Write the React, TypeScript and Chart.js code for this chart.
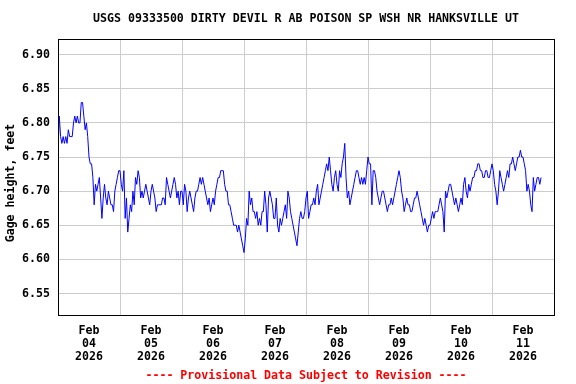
import React, { useEffect, useRef } from 'react';
import { Chart, registerables } from 'chart.js';

Chart.register(...registerables);

const TITLE = 'USGS 09333500 DIRTY DEVIL R AB POISON SP WSH NR HANKSVILLE UT';
const Y_TITLE = 'Gage height, feet';
const FOOTER = '---- Provisional Data Subject to Revision ----';
const MONTH = 'Feb';
const YEAR = '2026';
const DAYS = ['04', '05', '06', '07', '08', '09', '10', '11'];
const Y_TICKS = [6.55, 6.6, 6.65, 6.7, 6.75, 6.8, 6.85, 6.9];
const Y_MIN = 6.517;
const Y_MAX = 6.923;
const HOURS_SPAN = 192;
const STEP_HOURS = 0.5;

// half-hourly gage height, starting Feb 04 2026 00:00
const GAGE_HEIGHT = [
  6.76, 6.81, 6.78, 6.77, 6.78, 6.77, 6.78, 6.77, 6.79, 6.78, 6.78, 6.78,
  6.80, 6.81, 6.80, 6.81, 6.80, 6.80, 6.83, 6.83, 6.81, 6.79, 6.80, 6.78,
  6.75, 6.74, 6.74, 6.72, 6.68, 6.71, 6.70, 6.71, 6.72, 6.69, 6.66, 6.69,
  6.71, 6.69, 6.68, 6.70, 6.69, 6.68, 6.68, 6.67, 6.70, 6.71, 6.72, 6.73,
  6.73, 6.71, 6.70, 6.73, 6.66, 6.69, 6.64, 6.66, 6.68, 6.67, 6.70, 6.68,
  6.72, 6.71, 6.73, 6.72, 6.69, 6.70, 6.69, 6.70, 6.71, 6.70, 6.69, 6.68,
  6.70, 6.71, 6.70, 6.69, 6.67, 6.68, 6.68, 6.68, 6.68, 6.69, 6.69, 6.68,
  6.72, 6.71, 6.70, 6.69, 6.70, 6.71, 6.72, 6.71, 6.69, 6.70, 6.68, 6.70,
  6.70, 6.68, 6.71, 6.70, 6.67, 6.69, 6.70, 6.69, 6.68, 6.67, 6.69, 6.70,
  6.70, 6.71, 6.72, 6.71, 6.72, 6.71, 6.70, 6.69, 6.68, 6.69, 6.67, 6.68,
  6.69, 6.68, 6.70, 6.71, 6.72, 6.72, 6.73, 6.73, 6.73, 6.71, 6.70, 6.70,
  6.68, 6.68, 6.67, 6.66, 6.65, 6.65, 6.65, 6.64, 6.65, 6.64, 6.63, 6.62,
  6.61, 6.63, 6.66, 6.65, 6.70, 6.68, 6.69, 6.67, 6.67, 6.66, 6.67, 6.65,
  6.66, 6.65, 6.67, 6.67, 6.70, 6.68, 6.64, 6.69, 6.70, 6.69, 6.68, 6.66,
  6.66, 6.69, 6.65, 6.64, 6.66, 6.65, 6.66, 6.67, 6.68, 6.66, 6.70, 6.69,
  6.67, 6.66, 6.65, 6.64, 6.63, 6.62, 6.64, 6.66, 6.67, 6.66, 6.66, 6.67,
  6.69, 6.70, 6.66, 6.67, 6.68, 6.68, 6.69, 6.68, 6.70, 6.71, 6.68, 6.69,
  6.70, 6.71, 6.72, 6.73, 6.74, 6.73, 6.75, 6.73, 6.71, 6.70, 6.72, 6.73,
  6.71, 6.70, 6.73, 6.72, 6.74, 6.75, 6.77, 6.72, 6.69, 6.70, 6.68, 6.69,
  6.70, 6.71, 6.72, 6.73, 6.73, 6.72, 6.71, 6.72, 6.71, 6.72, 6.71, 6.73,
  6.75, 6.74, 6.74, 6.68, 6.73, 6.73, 6.72, 6.70, 6.69, 6.68, 6.69, 6.70,
  6.70, 6.69, 6.68, 6.67, 6.68, 6.68, 6.69, 6.68, 6.69, 6.70, 6.71, 6.72,
  6.73, 6.72, 6.70, 6.69, 6.67, 6.68, 6.69, 6.68, 6.68, 6.67, 6.67, 6.68,
  6.69, 6.69, 6.70, 6.69, 6.68, 6.67, 6.66, 6.65, 6.66, 6.65, 6.64, 6.65,
  6.65, 6.66, 6.67, 6.66, 6.67, 6.67, 6.67, 6.68, 6.69, 6.68, 6.67, 6.64,
  6.70, 6.69, 6.70, 6.71, 6.71, 6.70, 6.69, 6.68, 6.69, 6.68, 6.67, 6.68,
  6.69, 6.68, 6.71, 6.72, 6.70, 6.69, 6.71, 6.70, 6.71, 6.72, 6.72, 6.73,
  6.73, 6.74, 6.74, 6.73, 6.73, 6.72, 6.72, 6.73, 6.73, 6.72, 6.72, 6.73,
  6.74, 6.73, 6.71, 6.70, 6.68, 6.70, 6.73, 6.72, 6.71, 6.70, 6.71, 6.72,
  6.73, 6.72, 6.74, 6.74, 6.75, 6.74, 6.73, 6.74, 6.75, 6.75, 6.76, 6.75,
  6.75, 6.74, 6.73, 6.70, 6.71, 6.70, 6.68, 6.67, 6.72, 6.70, 6.71, 6.72,
  6.72, 6.71, 6.72,
];

const FONT_FAMILY = '"DejaVu Sans Mono", "Liberation Mono", monospace';
const FONT_SIZE = 11.6;

const decorPlugin = {
  id: 'decor',
  afterDraw(chart: any) {
    const { ctx, chartArea: a } = chart;
    ctx.save();
    ctx.strokeStyle = '#000000';
    ctx.lineWidth = 1;
    const l = Math.round(a.left) + 0.5;
    const t = Math.round(a.top) + 0.5;
    const r = Math.round(a.right) + 0.5;
    const b = Math.round(a.bottom) - 0.5;
    ctx.strokeRect(l, t, r - l, b - t);

    ctx.font = `bold ${FONT_SIZE}px ${FONT_FAMILY}`;
    ctx.fillStyle = '#000000';
    ctx.textAlign = 'center';
    ctx.textBaseline = 'middle';
    const cx = (a.left + a.right) / 2;
    ctx.fillText(TITLE, cx, 19);

    ctx.fillStyle = '#ff0000';
    ctx.fillText(FOOTER, cx, 376);

    ctx.fillStyle = '#000000';
    ctx.translate(11, 183);
    ctx.rotate(-Math.PI / 2);
    ctx.fillText(Y_TITLE, 0, 0);
    ctx.restore();
  },
};

export default function App() {
  const ref = useRef<HTMLCanvasElement | null>(null);

  useEffect(() => {
    document.body.style.margin = '0';
    if (!ref.current) return;
    const chart = new Chart(ref.current, {
      type: 'line',
      data: {
        datasets: [
          {
            data: GAGE_HEIGHT.map((v, i) => ({ x: i * STEP_HOURS, y: v })),
            borderColor: '#0000ff',
            borderWidth: 1,
            pointRadius: 0,
            tension: 0,
            fill: false,
          },
        ],
      },
      options: {
        animation: false,
        responsive: false,
        layout: { padding: { left: 0, top: 39, right: 22, bottom: 0 } },
        plugins: {
          legend: { display: false },
          tooltip: { enabled: false },
          title: { display: false },
        },
        scales: {
          x: {
            type: 'linear',
            min: 0,
            max: HOURS_SPAN,
            afterFit: (s: any) => {
              s.height = 68;
            },
            afterBuildTicks: (s: any) => {
              const ticks = [];
              for (let h = 0; h <= HOURS_SPAN; h += 12) ticks.push({ value: h });
              s.ticks = ticks;
            },
            border: { display: false },
            grid: {
              drawTicks: false,
              color: (c: any) => {
                const v = c.tick ? c.tick.value : 0;
                return v % 24 === 0 && v > 0 && v < HOURS_SPAN ? '#cccccc' : 'rgba(0,0,0,0)';
              },
              lineWidth: 1,
            },
            ticks: {
              autoSkip: false,
              maxRotation: 0,
              padding: 8,
              color: '#000000',
              font: { family: FONT_FAMILY, size: FONT_SIZE, weight: 'bold', lineHeight: 1.13 },
              callback: (v: any) => {
                const n = Number(v);
                if (n % 24 !== 12) return '';
                const d = DAYS[Math.floor(n / 24)];
                return [MONTH, d, YEAR];
              },
            },
          },
          y: {
            type: 'linear',
            min: Y_MIN,
            max: Y_MAX,
            afterFit: (s: any) => {
              s.width = 58;
            },
            afterBuildTicks: (s: any) => {
              s.ticks = Y_TICKS.map((v) => ({ value: v }));
            },
            border: { display: false },
            grid: { drawTicks: false, color: '#cccccc', lineWidth: 1 },
            ticks: {
              padding: 8,
              color: '#000000',
              font: { family: FONT_FAMILY, size: FONT_SIZE, weight: 'bold' },
              callback: (v: any) => Number(v).toFixed(2),
            },
          },
        },
      },
      plugins: [decorPlugin],
    });
    return () => chart.destroy();
  }, []);

  return (
    <div style={{ width: 576, height: 384, background: '#ffffff' }}>
      <canvas ref={ref} width={576} height={384} style={{ display: 'block' }} />
    </div>
  );
}
